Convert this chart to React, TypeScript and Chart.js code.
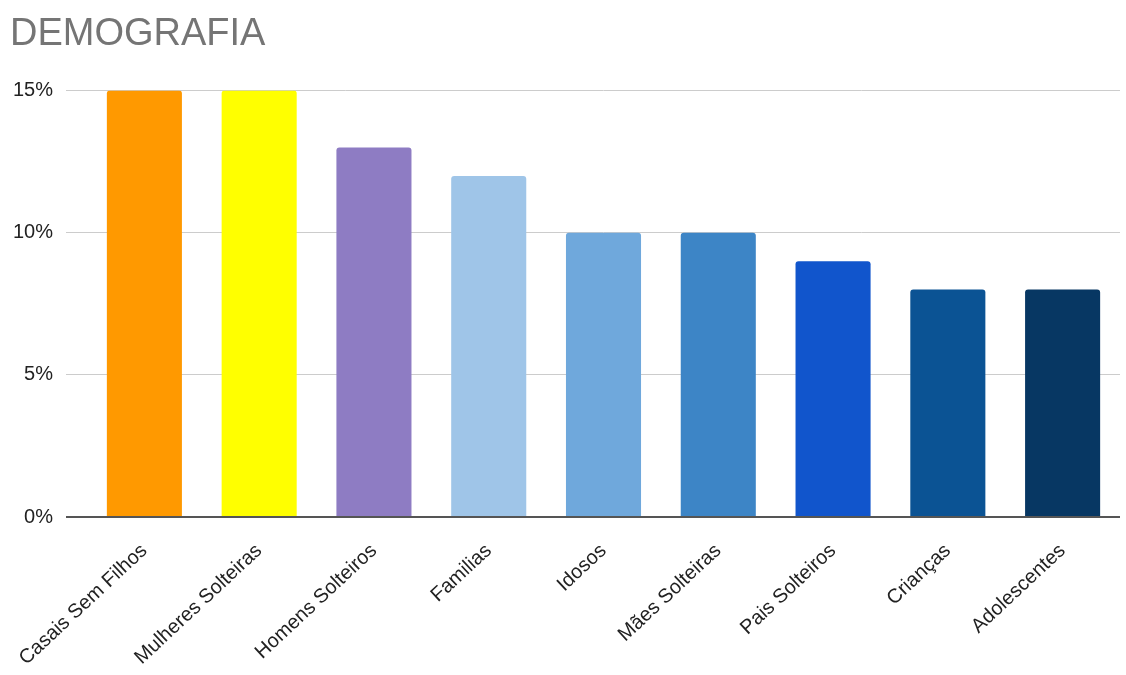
import React, { useEffect, useRef } from "react";
import { Chart, registerables } from "chart.js";

Chart.register(...registerables);

const categories = [
  "Casais Sem Filhos",
  "Mulheres Solteiras",
  "Homens Solteiros",
  "Familias",
  "Idosos",
  "Mães Solteiras",
  "Pais Solteiros",
  "Crianças",
  "Adolescentes",
];
const values = [15, 15, 13, 12, 10, 10, 9, 8, 8];
const barColors = [
  "#FF9900",
  "#FFFF00",
  "#8E7CC3",
  "#9FC5E8",
  "#6FA8DC",
  "#3D85C6",
  "#1155CC",
  "#0B5394",
  "#073763",
];
const yTicks = [0, 5, 10, 15];
const titleText = "DEMOGRAFIA";

export default function App() {
  const ref = useRef<HTMLCanvasElement | null>(null);
  useEffect(() => {
    if (!ref.current) return;
    const chart = new Chart(ref.current, {
      type: "bar",
      data: {
        labels: categories,
        datasets: [
          {
            data: values,
            backgroundColor: barColors,
            barPercentage: 0.654,
            categoryPercentage: 1,
            borderRadius: 3,
            borderSkipped: "start",
          },
        ],
      },
      options: {
        animation: false,
        responsive: false,
        maintainAspectRatio: false,
        layout: { padding: { left: 10, right: 6, top: 0, bottom: 0 } },
        plugins: {
          legend: { display: false },
          tooltip: { enabled: false },
          title: {
            display: true,
            text: titleText,
            align: "start",
            color: "#757575",
            font: { family: "Arial, 'Liberation Sans', sans-serif", size: 38, weight: "normal" },
            padding: { top: 12, bottom: 33 },
          },
        },
        scales: {
          x: {
            grid: { display: false },
            border: { display: false },
            ticks: {
              color: "#222",
              font: { family: "Arial, 'Liberation Sans', sans-serif", size: 20 },
              minRotation: 43,
              maxRotation: 43,
              padding: 14,
              autoSkip: false,
            },
            afterFit: (s: any) => {
              s.height = 158;
            },
          },
          y: {
            min: 0,
            max: 15,
            afterBuildTicks: (s: any) => {
              s.ticks = yTicks.map((v) => ({ value: v }));
            },
            grid: {
              color: (c: any) => (c.tick && c.tick.value === 0 ? "#555555" : "#CCCCCC"),
              lineWidth: (c: any) => (c.tick && c.tick.value === 0 ? 2 : 1),
              tickLength: 21,
              drawTicks: true,
            },
            border: { display: false },
            ticks: {
              color: "#222",
              font: { family: "Arial, 'Liberation Sans', sans-serif", size: 20 },
              padding: 13,
              callback: (v: any) => v + "%",
            },
            afterFit: (s: any) => {
              s.width = 77;
            },
          },
        },
      },
    });
    return () => chart.destroy();
  }, []);
  return (
    <div style={{ position: "absolute", left: 0, top: 0, width: 1126, height: 675, background: "#fff" }}>
      <canvas ref={ref} width={1126} height={675} style={{ display: "block" }} />
    </div>
  );
}
